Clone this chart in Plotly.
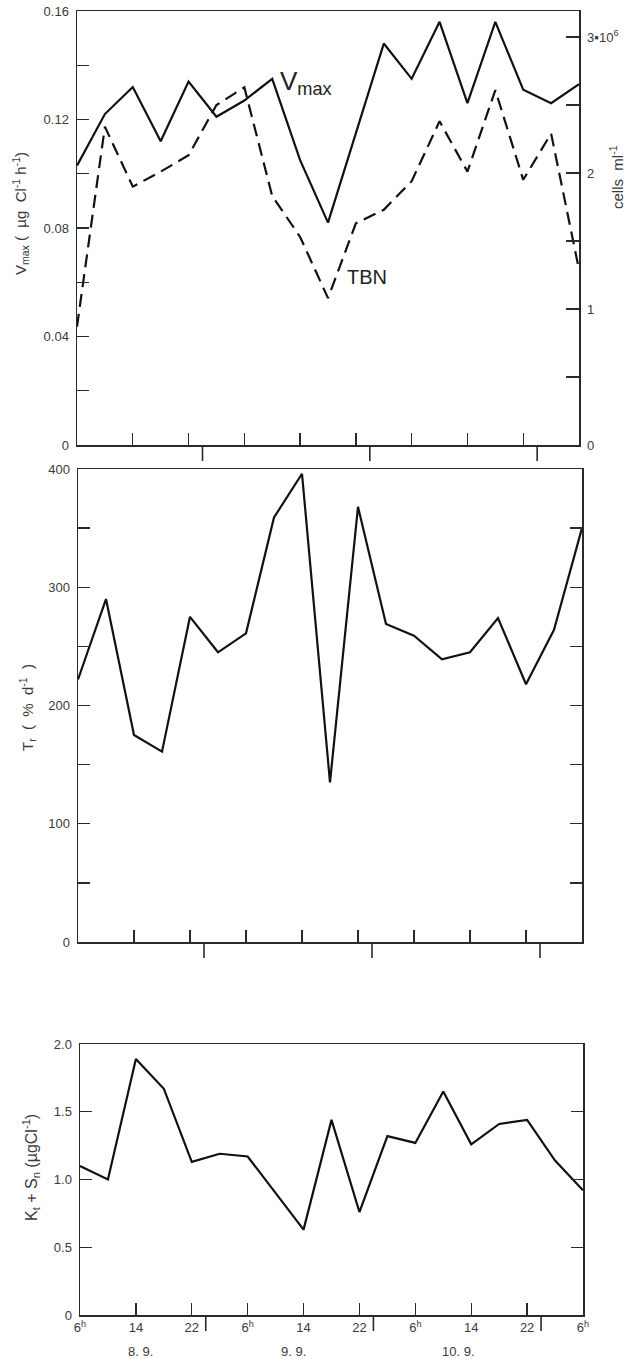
import plotly.graph_objects as go

# ---------------- data ----------------
hours = [0, 4, 8, 12, 16, 20, 24, 28, 32, 36, 40, 44, 48, 52, 56, 60, 64, 68, 72]

vmax = [0.103, 0.122, 0.132, 0.112, 0.134, 0.121, 0.127, 0.135, 0.105, 0.082,
        0.115, 0.148, 0.135, 0.156, 0.126, 0.156, 0.131, 0.126, 0.133]

tbn = [0.87, 2.34, 1.90, 2.01, 2.13, 2.50, 2.63, 1.83, 1.53, 1.08,
       1.63, 1.73, 1.94, 2.38, 2.01, 2.61, 1.95, 2.29, 1.29]

tr = [222, 290, 175, 161, 275, 245, 261, 359, 396, 135,
      368, 269, 259, 239, 245, 274, 218, 264, 350]

kts = [1.10, 1.00, 1.89, 1.67, 1.13, 1.19, 1.17, 0.90, 0.63, 1.44,
       0.76, 1.32, 1.27, 1.65, 1.26, 1.41, 1.44, 1.14, 0.92]

x_tick_hours = [0, 8, 16, 24, 32, 40, 48, 56, 64, 72]
x_tick_text = ["6<sup>h</sup>", "14", "22", "6<sup>h</sup>", "14", "22",
               "6<sup>h</sup>", "14", "22", "6<sup>h</sup>"]
day_boundaries = [18, 42, 66]
day_labels = ["8. 9.", "9. 9.", "10. 9."]
day_label_hours = [8.6, 30.5, 54.2]

vmax_ticks = [0, 0.04, 0.08, 0.12, 0.16]
vmax_ticktext = ["0", "0.04", "0.08", "0.12", "0.16"]
vmax_minor = [0.02, 0.06, 0.10, 0.14]
tbn_ticks = [0, 1, 2, 3]
tbn_ticktext = ["0", "1", "2", "3\u25aa10<sup>6</sup>"]
tbn_minor = [0.5, 1.5, 2.5]
tr_ticks = [0, 100, 200, 300, 400]
tr_ticktext = ["0", "100", "200", "300", "400"]
tr_minor = [50, 150, 250, 350]
kts_ticks = [0, 0.5, 1.0, 1.5, 2.0]
kts_ticktext = ["0", "0.5", "1.0", "1.5", "2.0"]

# ---------------- layout helpers ----------------
W, H = 636, 1359
FONT = "Liberation Sans, Arial, Helvetica, sans-serif"
TXT = "#3a3a3a"
LINE = "#2a2a2a"


def xdom(x0, x1):
    return [x0 / W, x1 / W]


def ydom(top, bottom):
    return [1 - bottom / H, 1 - top / H]


def minor(vals, ln=12):
    return dict(tickmode="array", tickvals=vals, ticks="inside", ticklen=ln,
                tickwidth=1.3, tickcolor=LINE, showgrid=False)


boxes = {
    1: (77, 579, 11, 445),
    2: (78, 582, 469, 942),
    3: (80, 583, 1044, 1315),
}

fig = go.Figure()

fig.add_trace(go.Scatter(x=hours, y=vmax, mode="lines", xaxis="x", yaxis="y",
                         line=dict(color="#111111", width=2.2), showlegend=False))
fig.add_trace(go.Scatter(x=hours, y=tbn, mode="lines", xaxis="x", yaxis="y4",
                         line=dict(color="#111111", width=2.2, dash="13px,7px"),
                         showlegend=False))
fig.add_trace(go.Scatter(x=hours, y=tr, mode="lines", xaxis="x2", yaxis="y2",
                         line=dict(color="#111111", width=2.2), showlegend=False))
fig.add_trace(go.Scatter(x=hours, y=kts, mode="lines", xaxis="x3", yaxis="y3",
                         line=dict(color="#111111", width=2.2), showlegend=False))

tickfont = dict(family=FONT, size=13, color=TXT)

common_x = dict(range=[0, 72], tickmode="array", tickvals=x_tick_hours,
                ticks="inside", ticklen=12, tickwidth=1.3, tickcolor=LINE,
                showline=True, linecolor=LINE, linewidth=1.5, mirror=True,
                showgrid=False, zeroline=False, automargin=False, tickfont=tickfont)
common_y = dict(tickmode="array", ticks="inside", ticklen=12, tickwidth=1.3,
                tickcolor=LINE, showline=True, linecolor=LINE, linewidth=1.5,
                showgrid=False, zeroline=False, automargin=False, tickfont=tickfont,
                ticklabelstandoff=4)

b = boxes[1]
fig.update_layout(
    xaxis=dict(common_x, domain=xdom(b[0], b[1]), anchor="y", showticklabels=False),
    yaxis=dict(common_y, domain=ydom(b[2], b[3]), anchor="x", range=[0, 0.16],
               tickvals=vmax_ticks, ticktext=vmax_ticktext, minor=minor(vmax_minor)),
    yaxis4=dict(common_y, overlaying="y", side="right", anchor="x",
                range=[0, (b[3] - b[2]) / 136.0],
                tickvals=tbn_ticks, ticktext=tbn_ticktext, ticklen=13,
                minor=minor(tbn_minor, 13)),
)
b = boxes[2]
fig.update_layout(
    xaxis2=dict(common_x, domain=xdom(b[0], b[1]), anchor="y2", showticklabels=False),
    yaxis2=dict(common_y, domain=ydom(b[2], b[3]), anchor="x2", range=[0, 400],
                tickvals=tr_ticks, ticktext=tr_ticktext, mirror="ticks",
                minor=minor(tr_minor)),
)
b = boxes[3]
fig.update_layout(
    xaxis3=dict(common_x, domain=xdom(b[0], b[1]), anchor="y3", showticklabels=True,
                ticktext=x_tick_text, ticklabelstandoff=0),
    yaxis3=dict(common_y, domain=ydom(b[2], b[3]), anchor="x3", range=[0, 2],
                tickvals=kts_ticks, ticktext=kts_ticktext, mirror="ticks"),
)

# day separators below each panel
shapes = []
for i, (xa, ya) in enumerate([("x", "y"), ("x2", "y2"), ("x3", "y3")], start=1):
    bx = boxes[i]
    ph = bx[3] - bx[2]
    for d in day_boundaries:
        shapes.append(dict(type="line", xref=xa, yref=f"{ya} domain",
                           x0=d, x1=d, y0=0, y1=-16 / ph,
                           line=dict(color=LINE, width=1.6)))

annotations = []
# date labels
ph3 = boxes[3][3] - boxes[3][2]
for lab, hx in zip(day_labels, day_label_hours):
    annotations.append(dict(x=hx, y=-36 / ph3, xref="x3", yref="y3 domain",
                            text=lab, showarrow=False, xanchor="center",
                            yanchor="middle", font=dict(family=FONT, size=13, color=TXT)))

# axis titles (rotated)
titles = [
    ("V<sub>max</sub> (  \u00b5g  Cl<sup>-1</sup> h<sup>-1</sup>)", 20, 214, 15),
    ("T<sub>r</sub>  (  %  d<sup>-1</sup>  )", 27, 708, 15),
    ("K<sub>t</sub> + S<sub>n</sub> (\u00b5gCl<sup>-1</sup>)", 31, 1168, 16),
    ("cells  ml<sup>-1</sup>", 616, 177, 15),
]
for t, px, py, fs in titles:
    annotations.append(dict(x=px / W, y=1 - py / H, xref="paper", yref="paper",
                            text=t, showarrow=False, textangle=-90,
                            xanchor="center", yanchor="middle",
                            font=dict(family=FONT, size=fs, color=TXT)))

# series labels
annotations.append(dict(x=28.8, y=0.1335, xref="x", yref="y", text="V<sub>max</sub>",
                        showarrow=False, xanchor="left", yanchor="middle",
                        font=dict(family=FONT, size=26, color="#222222")))
annotations.append(dict(x=38.4, y=1.235, xref="x", yref="y4", text="TBN",
                        showarrow=False, xanchor="left", yanchor="middle",
                        font=dict(family=FONT, size=20, color="#222222")))

fig.update_layout(
    width=W, height=H,
    margin=dict(l=0, r=0, t=0, b=0, autoexpand=False),
    paper_bgcolor="white", plot_bgcolor="white",
    shapes=shapes, annotations=annotations, showlegend=False,
)

fig.write_html("out.html",
               config={"displayModeBar": False, "staticPlot": True},
               post_script="document.body.style.margin='0';"
                           "document.body.style.padding='0';"
                           "document.documentElement.style.overflow='hidden';")
